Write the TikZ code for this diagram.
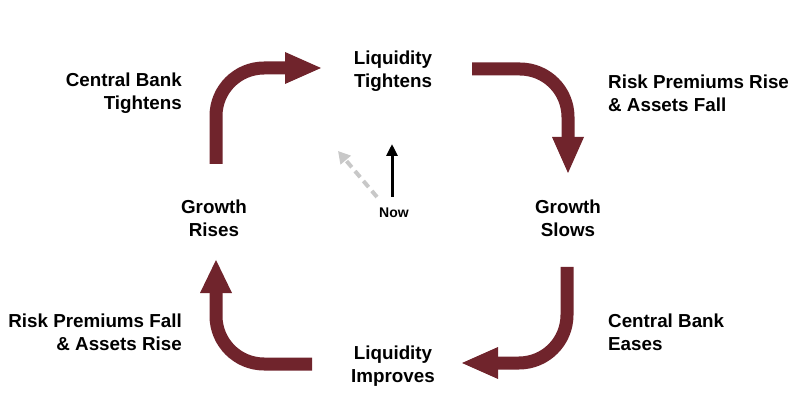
\documentclass[tikz,border=0pt]{standalone}
\usepackage{fontspec}
\setmainfont{Liberation Sans}
\usetikzlibrary{arrows.meta}
\definecolor{maroon}{RGB}{112,36,44}
\definecolor{lgray}{RGB}{200,200,200}
\begin{document}
\begin{tikzpicture}[x=1pt,y=-1pt,
  lbl/.style={font=\bfseries\fontsize{18.8}{23}\selectfont,inner sep=0pt},
  shaft/.style={draw=maroon,line width=13pt,rounded corners=48pt},
  headtri/.style={fill=maroon}]
\useasboundingbox (0,0) rectangle (798,414);
% labels
\node[lbl,align=center] (lt) at (393,71) {Liquidity\\Tightens};
\node[lbl,align=right,anchor=east] (cbt) at (182,93) {Central Bank\\Tightens};
\node[lbl,align=left,anchor=west] (rpr) at (608,93) {Risk Premiums Rise\\\& Assets Fall};
\node[lbl,align=center] (gs) at (568,218) {Growth\\Slows};
\node[lbl,align=center] (gr) at (214,218) {Growth\\Rises};
\node[lbl,align=left,anchor=west] (cbe) at (608,332) {Central Bank\\Eases};
\node[lbl,align=right,anchor=east] (rpf) at (182,332) {Risk Premiums Fall\\\& Assets Rise};
\node[lbl,align=center] (li) at (393,366) {Liquidity\\Improves};
\node[font=\bfseries\fontsize{14}{16}\selectfont,inner sep=0pt] (now) at (394,213) {Now};
% big arrows
\draw[shaft] (216,164) -- (216,68) -- (287,68);
\fill[headtri] (285,52) -- (321,68) -- (285,84) -- cycle;
\draw[shaft] (472,69) -- (568,69) -- (568,139);
\fill[headtri] (552,137) -- (584,137) -- (568,173) -- cycle;
\draw[shaft] (567,267) -- (567,363) -- (496,363);
\fill[headtri] (498,347) -- (498,379) -- (462,363) -- cycle;
\draw[shaft] (312,364) -- (216,364) -- (216,291);
\fill[headtri] (200,293) -- (232,293) -- (216,260) -- cycle;
% now arrows
\coordinate (nb) at (392,197);
\coordinate (nt) at (392,144);
\coordinate (gb) at (377,197);
\coordinate (gt) at (338,151);
\draw[line width=3pt,-{Triangle[length=12pt,width=11pt]}] (nb) -- (nt);
\draw[lgray,line width=4pt,dash pattern=on 8pt off 5pt,-{Triangle[length=12pt,width=13pt]}] (gb) -- (gt);
\end{tikzpicture}
\end{document}
